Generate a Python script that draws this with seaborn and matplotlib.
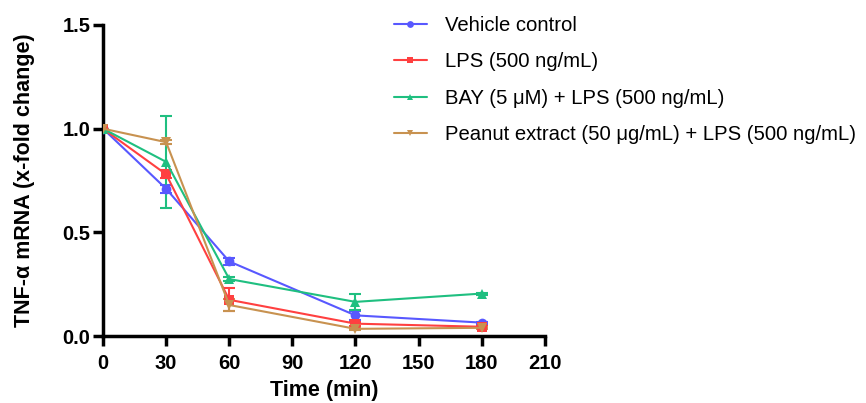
import pandas as pd
import seaborn as sns
import matplotlib.pyplot as plt

# 时间点 (min)
times = [0, 30, 60, 120, 180]

# 各组均值与误差
vehicle = [1.0, 0.71, 0.36, 0.10, 0.065]
vehicle_err = [0.0, 0.02, 0.015, 0.02, 0.005]
lps = [1.0, 0.78, 0.175, 0.06, 0.045]
lps_err = [0.0, 0.02, 0.056, 0.01, 0.005]
bay = [1.0, 0.84, 0.275, 0.165, 0.205]
bay_err = [0.0, 0.22, 0.01, 0.04, 0.005]
peanut = [1.0, 0.935, 0.15, 0.035, 0.04]
peanut_err = [0.0, 0.01, 0.03, 0.005, 0.005]

labels = ['Vehicle control',
          'LPS (500 ng/mL)',
          'BAY (5 \u03bcM) + LPS (500 ng/mL)',
          'Peanut extract (50 \u03bcg/mL) + LPS (500 ng/mL)']
colors = ['#5858ff', '#ff4040', '#1fbf80', '#c89250']
markers = ['o', 's', '^', 'v']

sns.set_style('ticks')
plt.rcParams['font.family'] = ['Liberation Sans', 'DejaVu Sans']
plt.rcParams['text.color'] = 'black'
plt.rcParams['axes.labelcolor'] = 'black'
plt.rcParams['xtick.color'] = 'black'
plt.rcParams['ytick.color'] = 'black'
plt.rcParams['axes.edgecolor'] = 'black'

rows = []
for lab, vals, errs in zip(labels, [vehicle, lps, bay, peanut],
                           [vehicle_err, lps_err, bay_err, peanut_err]):
    for t, v, e in zip(times, vals, errs):
        rows.append({'Time': t, 'Value': v, 'Err': e, 'Group': lab})
df = pd.DataFrame(rows)

fig = plt.figure(figsize=(8.66, 4.03), dpi=100)
ax = fig.add_axes([0.119, 0.166, 0.51, 0.772])

# 误差线
for lab, c in zip(labels, colors):
    sub = df[df['Group'] == lab]
    ax.errorbar(sub['Time'], sub['Value'], yerr=sub['Err'], fmt='none',
                ecolor=c, elinewidth=1.5, capsize=4, capthick=1.5, zorder=2)

sns.lineplot(data=df, x='Time', y='Value', hue='Group', style='Group',
             hue_order=labels, style_order=labels,
             palette=colors, markers=markers, dashes=False,
             markersize=7, markeredgewidth=0, linewidth=1.5,
             ax=ax, legend=True, zorder=3)

ax.set_xlim(0, 210)
ax.set_ylim(0, 1.5)
ax.set_xticks([0, 30, 60, 90, 120, 150, 180, 210])
ax.set_yticks([0.0, 0.5, 1.0, 1.5])
ax.set_yticklabels(['0.0', '0.5', '1.0', '1.5'])
ax.set_xlabel('Time (min)', fontsize=15.5, fontweight='bold', labelpad=5)
ax.set_ylabel('TNF-\u03b1 mRNA (x-fold change)', fontsize=15.5,
              fontweight='bold', labelpad=20)
for lbl in ax.get_xticklabels() + ax.get_yticklabels():
    lbl.set_fontweight('bold')
ax.tick_params(axis='both', labelsize=14.5, width=2.5, length=7, direction='out')
ax.tick_params(axis='x', pad=6)
ax.tick_params(axis='y', pad=2)
sns.despine(ax=ax)
for s in ['left', 'bottom']:
    ax.spines[s].set_linewidth(2.5)
    ax.spines[s].set_clip_on(False)

handles, hl = ax.get_legend_handles_labels()
ax.get_legend().remove()
fig.legend(handles, hl, loc='upper left', bbox_to_anchor=(0.434, 1.005),
           frameon=False, fontsize=14.6, labelspacing=0.85, handlelength=1.6,
           handletextpad=0.9, markerscale=0.7)

plt.savefig('out.png', dpi=100)
